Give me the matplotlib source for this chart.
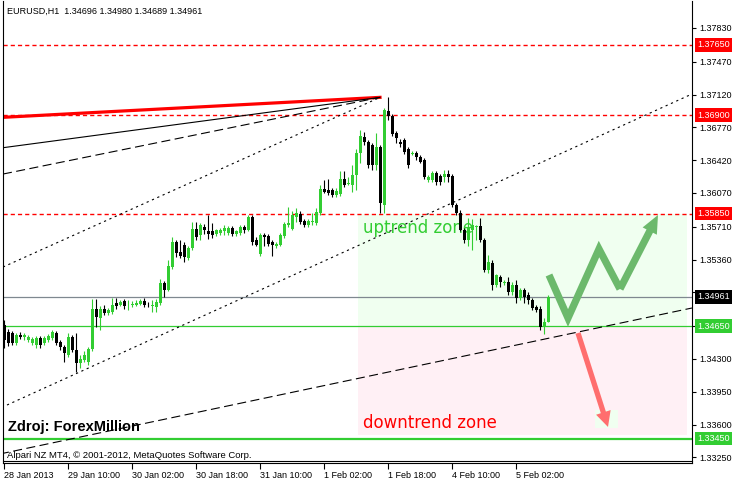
import matplotlib
matplotlib.use("Agg")
import matplotlib.pyplot as plt
import numpy as np
from matplotlib.transforms import blended_transform_factory

plt.rcParams['font.family'] = ['Liberation Sans', 'DejaVu Sans']
plt.rcParams['lines.scale_dashes'] = False

titulo = "EURUSD,H1  1.34696 1.34980 1.34689 1.34961"

# candles H1 (index 0 = 28 Jan 18:00)
opens = [1.3466, 1.3459, 1.3458, 1.3447, 1.3455, 1.3453, 1.3450, 1.3447, 1.3445, 1.3452,
         1.3447, 1.3450, 1.3452, 1.3458, 1.3448, 1.3443, 1.3434, 1.3453, 1.3440, 1.3426,
         1.3429, 1.3427, 1.3441, 1.3483, 1.3474, 1.3483, 1.3479, 1.3480, 1.3490, 1.3488,
         1.3492, 1.3487, 1.3487, 1.3487, 1.3489, 1.3492, 1.3488, 1.3486, 1.3485, 1.3490,
         1.3511, 1.3504, 1.3528, 1.3555, 1.3544, 1.3551, 1.3538, 1.3548, 1.3569, 1.3562,
         1.3571, 1.3566, 1.3566, 1.3563, 1.3564, 1.3566, 1.3564, 1.3570, 1.3563, 1.3564,
         1.3571, 1.3567, 1.3581, 1.3557, 1.3542, 1.3562, 1.3561, 1.3555, 1.3550, 1.3552,
         1.3561, 1.3573, 1.3569, 1.3581, 1.3585, 1.3577, 1.3573, 1.3576, 1.3575, 1.3586,
         1.3611, 1.3610, 1.3610, 1.3605, 1.3606, 1.3622, 1.3617, 1.3616, 1.3626, 1.3650,
         1.3667, 1.3661, 1.3658, 1.3637, 1.3656, 1.3594, 1.3694, 1.3689, 1.3671, 1.3661,
         1.3664, 1.3654, 1.3649, 1.3650, 1.3645, 1.3642, 1.3621, 1.3621, 1.3628, 1.3625,
         1.3624, 1.3627, 1.3625, 1.3594, 1.3586, 1.3568, 1.3557, 1.3568, 1.3571, 1.3572,
         1.3557, 1.3525, 1.3532, 1.3509, 1.3517, 1.3511, 1.3512, 1.3501, 1.3509, 1.3495,
         1.3503, 1.3498, 1.3493, 1.3485, 1.3483, 1.3464, 1.34696]
highs = [1.3471, 1.3462, 1.3460, 1.3458, 1.3459, 1.3458, 1.3455, 1.3453, 1.3454, 1.3454,
         1.3454, 1.3457, 1.3461, 1.3460, 1.3450, 1.3445, 1.3458, 1.3455, 1.3458, 1.3434,
         1.3438, 1.3443, 1.3494, 1.3494, 1.3486, 1.3487, 1.3484, 1.3495, 1.3495, 1.3493,
         1.3494, 1.3493, 1.3492, 1.3493, 1.3494, 1.3495, 1.3491, 1.3493, 1.3494, 1.3515,
         1.3513, 1.3535, 1.3560, 1.3557, 1.3557, 1.3555, 1.3550, 1.3576, 1.3576, 1.3575,
         1.3574, 1.3584, 1.3575, 1.3569, 1.3570, 1.3573, 1.3572, 1.3572, 1.3568, 1.3573,
         1.3573, 1.3583, 1.3583, 1.3560, 1.3564, 1.3564, 1.3563, 1.3557, 1.3555, 1.3564,
         1.3576, 1.3592, 1.3588, 1.3591, 1.3588, 1.3579, 1.3579, 1.3586, 1.3591, 1.3616,
         1.3621, 1.3622, 1.3612, 1.3612, 1.3630, 1.3630, 1.3624, 1.3637, 1.3654, 1.3674,
         1.3672, 1.3664, 1.3660, 1.3671, 1.3658, 1.3698, 1.3709, 1.3691, 1.3673, 1.3665,
         1.3666, 1.3656, 1.3652, 1.3652, 1.3648, 1.3644, 1.3626, 1.3630, 1.3630, 1.3627,
         1.3632, 1.3632, 1.3627, 1.3596, 1.3589, 1.3570, 1.3580, 1.3579, 1.3573, 1.3580,
         1.3559, 1.3541, 1.3535, 1.3521, 1.3519, 1.3514, 1.3517, 1.3512, 1.3514, 1.3506,
         1.3506, 1.3501, 1.3495, 1.3488, 1.3486, 1.3474, 1.34980]
lows = [1.3442, 1.3444, 1.3445, 1.3445, 1.3451, 1.3450, 1.3448, 1.3445, 1.3442, 1.3442,
        1.3445, 1.3448, 1.3450, 1.3445, 1.3440, 1.3427, 1.3432, 1.3437, 1.3416, 1.3420,
        1.3427, 1.3424, 1.3438, 1.3464, 1.3461, 1.3477, 1.3477, 1.3478, 1.3483, 1.3486,
        1.3483, 1.3482, 1.3485, 1.3486, 1.3487, 1.3485, 1.3485, 1.3480, 1.3480, 1.3488,
        1.3496, 1.3502, 1.3526, 1.3539, 1.3538, 1.3533, 1.3535, 1.3546, 1.3557, 1.3557,
        1.3563, 1.3558, 1.3559, 1.3561, 1.3562, 1.3562, 1.3562, 1.3561, 1.3561, 1.3562,
        1.3564, 1.3566, 1.3551, 1.3550, 1.3540, 1.3550, 1.3550, 1.3540, 1.3548, 1.3550,
        1.3559, 1.3571, 1.3567, 1.3576, 1.3574, 1.3571, 1.3571, 1.3573, 1.3573, 1.3583,
        1.3607, 1.3605, 1.3603, 1.3603, 1.3604, 1.3613, 1.3615, 1.3608, 1.3610, 1.3639,
        1.3658, 1.3634, 1.3632, 1.3632, 1.3586, 1.3586, 1.3685, 1.3668, 1.3660, 1.3656,
        1.3649, 1.3634, 1.3647, 1.3642, 1.3639, 1.3622, 1.3619, 1.3619, 1.3616, 1.3616,
        1.3619, 1.3619, 1.3592, 1.3583, 1.3566, 1.3554, 1.3550, 1.3546, 1.3557, 1.3555,
        1.3523, 1.3522, 1.3504, 1.3507, 1.3507, 1.3509, 1.3498, 1.3498, 1.3490, 1.3493,
        1.3490, 1.3489, 1.3482, 1.3480, 1.3461, 1.3457, 1.34689]
closes = [1.3450, 1.3447, 1.3447, 1.3455, 1.3453, 1.3455, 1.3453, 1.3451, 1.3452, 1.3445,
          1.3452, 1.3454, 1.3459, 1.3447, 1.3443, 1.3436, 1.3453, 1.3440, 1.3426, 1.3430,
          1.3434, 1.3441, 1.3483, 1.3475, 1.3483, 1.3479, 1.3482, 1.3487, 1.3486, 1.3491,
          1.3486, 1.3488, 1.3489, 1.3490, 1.3492, 1.3487, 1.3487, 1.3487, 1.3491, 1.3511,
          1.3503, 1.3529, 1.3555, 1.3543, 1.3540, 1.3539, 1.3548, 1.3569, 1.3560, 1.3573,
          1.3567, 1.3563, 1.3562, 1.3567, 1.3567, 1.3570, 1.3570, 1.3563, 1.3566, 1.3571,
          1.3567, 1.3581, 1.3555, 1.3551, 1.3562, 1.3560, 1.3553, 1.3551, 1.3553, 1.3562,
          1.3574, 1.3575, 1.3583, 1.3586, 1.3576, 1.3573, 1.3577, 1.3577, 1.3587, 1.3611,
          1.3608, 1.3607, 1.3605, 1.3609, 1.3622, 1.3616, 1.3618, 1.3626, 1.3650, 1.3668,
          1.3661, 1.3637, 1.3637, 1.3656, 1.3596, 1.3696, 1.3689, 1.3670, 1.3666, 1.3659,
          1.3651, 1.3637, 1.3650, 1.3645, 1.3640, 1.3624, 1.3624, 1.3628, 1.3619, 1.3619,
          1.3627, 1.3624, 1.3594, 1.3586, 1.3568, 1.3557, 1.3571, 1.3573, 1.3572, 1.3557,
          1.3525, 1.3533, 1.3509, 1.3519, 1.3512, 1.3512, 1.3501, 1.3509, 1.3495, 1.3503,
          1.3496, 1.3493, 1.3484, 1.3482, 1.3464, 1.3469, 1.34961]

x_ticks = [0, 16, 32, 48, 64, 80, 96, 112, 128]
x_labels = ["28 Jan 2013", "29 Jan 10:00", "30 Jan 02:00", "30 Jan 18:00", "31 Jan 10:00",
            "1 Feb 02:00", "1 Feb 18:00", "4 Feb 10:00", "5 Feb 02:00"]
y_ticks = [1.37830, 1.37470, 1.37120, 1.36770, 1.36420, 1.36070, 1.35710, 1.35360,
           1.35010, 1.34650, 1.34300, 1.33950, 1.33600, 1.33250]

red_levels = [1.37650, 1.36900, 1.35850]
green_levels = [1.34650, 1.33450]
bid = 1.34961

# uptrend / downtrend zones (x from, x to, price bottom, price top)
up_zone = (88.5, 170.75, 1.34650, 1.35850)
down_zone = (88.5, 170.75, 1.33490, 1.34650)

# fan from the top (bar 94, 1.3709) to the left edge
fan_top = (94, 1.3709)
fan_left_x = -0.25
fan_red = 1.36877
fan_solid = 1.36553
fan_dashed = 1.36272
fan_dotted = 1.35280

trend_dotted = ([0.75, 172], [1.33808, 1.37126])
trend_dashed = ([-1, 172], [1.33286, 1.34843])

green_path_x = [136.25, 141, 148.75, 154, 163.5]
green_path_y = [1.35195, 1.34736, 1.35472, 1.35046, 1.35835]
red_arrow_x = [143.5, 151]
red_arrow_y = [1.34576, 1.33574]

GREEN = '#32CD32'

fig = plt.figure(figsize=(7.33, 4.82), dpi=100)
ax = fig.add_axes([3/733, 19/482, 689/733, 462/482])
ax.set_xlim(-0.25, 172)
ax.set_ylim(1.331895, 1.381180)

# zones
ax.fill_between([up_zone[0], up_zone[1]], up_zone[2], up_zone[3], color='#f0fff0', lw=0, zorder=0.5)
ax.fill_between([down_zone[0], down_zone[1]], down_zone[2], down_zone[3], color='#fff0f5', lw=0, zorder=0.5)
ax.fill_between([147.75, 153.5], 1.33563, 1.33755, color='#f0fff0', lw=0, zorder=0.6)
ax.text(89.75, 1.35697, "uptrend zone", color=GREEN, fontsize=12, family='DejaVu Sans',
        va='center', ha='left', zorder=1)
ax.text(89.75, 1.33616, "downtrend zone", color='red', fontsize=12, family='DejaVu Sans',
        va='center', ha='left', zorder=1)

# horizontal levels
for nivel in red_levels:
    ax.axhline(nivel, color='#ff0000', lw=1.0, ls=(0, (3, 2.2)), zorder=1.5)
ax.axhline(bid, color='#7f8890', lw=0.9, zorder=1.5)
ax.axhline(green_levels[0], color=GREEN, lw=0.9, zorder=1.5)
ax.axhline(green_levels[1], color=GREEN, lw=1.6, zorder=1.5)

# fan lines
ax.plot([fan_left_x, fan_top[0]], [fan_red, fan_top[1]], color='red', lw=2.3, zorder=2)
ax.plot([fan_left_x, fan_top[0]], [fan_solid, fan_top[1]], color='black', lw=0.8, zorder=2)
ax.plot([fan_left_x, fan_top[0]], [fan_dashed, fan_top[1]], color='black', lw=0.8,
        ls=(0, (6.5, 3.2)), zorder=2)
ax.plot([fan_left_x, fan_top[0]], [fan_dotted, fan_top[1]], color='black', lw=0.8,
        ls=(0, (1.6, 2.6)), zorder=2)
ax.plot(trend_dotted[0], trend_dotted[1], color='black', lw=0.8, ls=(0, (1.6, 2.6)), zorder=2)
ax.plot(trend_dashed[0], trend_dashed[1], color='black', lw=0.8, ls=(0, (6.5, 3.2)), zorder=2)

# candles
x = np.arange(len(opens))
o = np.array(opens)
h = np.array(highs)
l = np.array(lows)
c = np.array(closes)
up = c >= o
ax.vlines(x[up], l[up], h[up], color=GREEN, lw=0.8, zorder=3)
ax.vlines(x[~up], l[~up], h[~up], color='black', lw=0.8, zorder=3)
corpo = np.maximum(np.abs(c - o), 0.0001)
cores = np.where(up, GREEN, 'black')
ax.bar(x, corpo, bottom=np.minimum(o, c), width=0.75, color=cores, lw=0, zorder=3.1)

# arrows
ax.plot(green_path_x[:4], green_path_y[:4], color='#6cb96c', lw=5.2,
        solid_joinstyle='miter', solid_capstyle='butt', zorder=4)
ax.annotate('', xy=(green_path_x[4], green_path_y[4]), xytext=(green_path_x[3], green_path_y[3]),
            arrowprops=dict(arrowstyle='simple,head_length=1.3,head_width=1.15,tail_width=0.52',
                            mutation_scale=10, color='#6cb96c', lw=0, shrinkA=0, shrinkB=0),
            zorder=4)
ax.annotate('', xy=(red_arrow_x[1], red_arrow_y[1]), xytext=(red_arrow_x[0], red_arrow_y[0]),
            arrowprops=dict(arrowstyle='simple,head_length=1.1,head_width=1.1,tail_width=0.38',
                            mutation_scale=10, color='#ff6e6e', lw=0, shrinkA=0, shrinkB=0),
            zorder=4)

# axes look
ax.spines['top'].set_visible(False)
for lado in ['left', 'right', 'bottom']:
    ax.spines[lado].set_linewidth(0.8)
ax.yaxis.tick_right()
ax.set_yticks(y_ticks)
# 1.34650 sits under the green level box, so no plain label there
ax.set_yticklabels(["" if v in green_levels else f"{v:.5f}" for v in y_ticks])
ax.tick_params(axis='y', length=3, width=0.8, pad=2.2, labelsize=6.5)
ax.set_xticks(x_ticks)
ax.set_xticklabels(x_labels)
ax.tick_params(axis='x', length=4, width=0.8, pad=1.5, labelsize=6.5)
for lab in ax.get_xticklabels():
    lab.set_ha('left')
ax.plot([0, 1], [2/462, 2/462], transform=ax.transAxes, color='black', lw=0.8, clip_on=False)

trans = blended_transform_factory(ax.transAxes, ax.transData)
def etiqueta(valor, cor):
    ax.text(1 + 5/689, valor, f"{valor:.5f}", transform=trans, color='white', fontsize=6.5,
            va='center', ha='left', clip_on=False, zorder=10,
            bbox=dict(boxstyle='square,pad=0.25', fc=cor, ec='none'))

for nivel in red_levels:
    etiqueta(nivel, 'red')
etiqueta(bid, 'black')
for nivel in green_levels:
    etiqueta(nivel, GREEN)

fig.text(7/733, 1 - 11/482, titulo, fontsize=6.5, va='center', ha='left')
fig.text(8/733, 1 - 427/482, "Zdroj: ForexMillion", fontsize=10.5, fontweight='bold',
         va='center', ha='left')
fig.text(7/733, 1 - 456/482, "Alpari NZ MT4, \u00a9 2001-2012, MetaQuotes Software Corp.",
         fontsize=6.8, va='center', ha='left')

fig.savefig("out.png", dpi=100)
